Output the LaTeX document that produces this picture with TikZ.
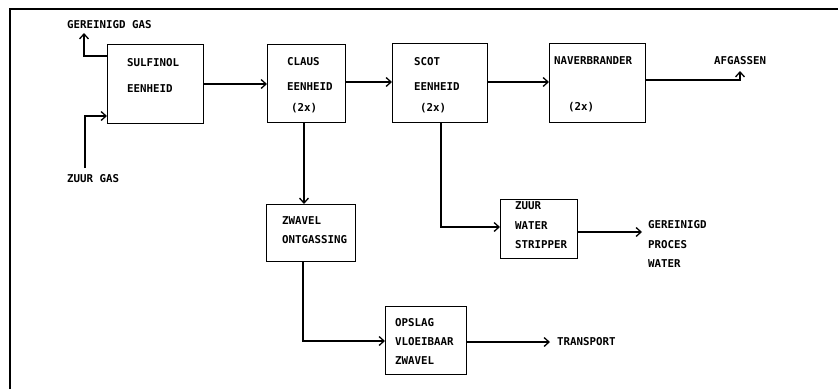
\documentclass[tikz,border=0pt]{standalone}
\usepackage{fontspec}
\setmainfont{DejaVu Sans Mono}
\usetikzlibrary{arrows.meta,calc}
\begin{document}
\begin{tikzpicture}[x=1pt,y=-1pt,
  box/.style={draw,line width=1.2pt,inner sep=0pt,anchor=north west},
  lbl/.style={anchor=west,inner sep=0pt,font=\fontsize{10.8}{12}\selectfont\bfseries},
  flow/.style={line width=1.2pt,-{Straight Barb[length=5pt,width=9pt,line width=1.3pt]}},
  frame/.style={line width=2pt}]
\useasboundingbox (0,0) rectangle (838,389);
\coordinate (ftl) at (10,9);
\coordinate (fbl) at (10,389);
\coordinate (ftr) at (838,9);
\draw[frame] (fbl) -- (ftl) -- (ftr);
% boxes
\node[box,minimum width=96pt,minimum height=79pt] (sulf) at (107,44) {};
\node[box,minimum width=78pt,minimum height=78pt] (claus) at (267,44) {};
\node[box,minimum width=95pt,minimum height=79pt] (scot) at (392,43) {};
\node[box,minimum width=96pt,minimum height=79pt] (naver) at (549,43) {};
\node[box,minimum width=89pt,minimum height=57pt] (zwavel) at (266,204) {};
\node[box,minimum width=77pt,minimum height=59pt] (zuur) at (500,199) {};
\node[box,minimum width=81pt,minimum height=68pt] (opslag) at (385,306) {};
% box texts
\node[lbl] (t1) at (127,63) {SULFINOL};
\node[lbl] (t2) at (127,89) {EENHEID};
\node[lbl] (t3) at (287,62) {CLAUS};
\node[lbl] (t4) at (287,87) {EENHEID};
\node[lbl] (t5) at (291,108) {(2x)};
\node[lbl] (t6) at (414,62) {SCOT};
\node[lbl] (t7) at (414,87) {EENHEID};
\node[lbl] (t8) at (420,108) {(2x)};
\node[lbl] (t9) at (554,61) {NAVERBRANDER};
\node[lbl] (t10) at (568,107) {(2x)};
\node[lbl] (t11) at (282,221) {ZWAVEL};
\node[lbl] (t12) at (282,240) {ONTGASSING};
\node[lbl] (t13) at (515,206) {ZUUR};
\node[lbl] (t14) at (515,226) {WATER};
\node[lbl] (t15) at (515,245) {STRIPPER};
\node[lbl] (t16) at (395,323) {OPSLAG};
\node[lbl] (t17) at (395,342) {VLOEIBAAR};
\node[lbl] (t18) at (395,361) {ZWAVEL};
% outer texts
\node[lbl] (gg) at (67,25) {GEREINIGD GAS};
\node[lbl] (zg) at (67,179) {ZUUR GAS};
\node[lbl] (af) at (714,61) {AFGASSEN};
\node[lbl] (gp1) at (648,225) {GEREINIGD};
\node[lbl] (gp2) at (648,245) {PROCES};
\node[lbl] (gp3) at (648,264) {WATER};
\node[lbl] (tr) at (557,342) {TRANSPORT};
% free ends
\coordinate (ggend) at (84,33);
\coordinate (zgstart) at (85,168);
\coordinate (afend) at (740,71);
\coordinate (gpend) at (642,232);
\coordinate (trend) at (550,342);
% connectors
\draw[flow] (sulf.east |- 0,84) -- (claus.west |- 0,84);
\draw[flow] (claus.east |- 0,82) -- (scot.west |- 0,82);
\draw[flow] (scot.east |- 0,82) -- (naver.west |- 0,82);
\draw[flow] (naver.east |- 0,80) -| (afend);
\draw[flow] (sulf.west |- 0,56) -| (ggend);
\draw[flow] (zgstart) |- (sulf.west |- 0,116);
\draw[flow] (claus.south -| 304,0) -- (zwavel.north -| 304,0);
\draw[flow] (scot.south -| 441,0) |- (zuur.west |- 0,227);
\draw[flow] (zuur.east |- gpend) -- (gpend);
\draw[flow] (zwavel.south -| 303,0) |- (opslag.west |- 0,341);
\draw[flow] (opslag.east |- trend) -- (trend);
\end{tikzpicture}
\end{document}
